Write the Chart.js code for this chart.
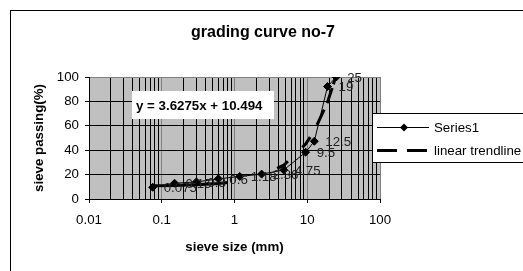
<!DOCTYPE html>
<html><head><meta charset="utf-8">
<script src="https://cdn.jsdelivr.net/npm/chart.js@4.4.1/dist/chart.umd.min.js"></script>
<style>html,body{margin:0;padding:0;background:#fff;overflow:hidden}canvas{display:block}</style>
</head><body>
<canvas id="c" width="523" height="271"></canvas>
<script>
// ---- data ----
const sieveSizes   = [0.075, 0.15, 0.3, 0.6, 1.18, 2.36, 4.75, 9.5, 12.5, 19, 25];
const sizeLabels   = ['0.075','0.15','0.3','0.6','1.18','2.36','4.75','9.5','12.5','19','25'];
const passing      = [9.6, 12.9, 14.0, 16.5, 18.5, 20.4, 23.8, 38.3, 47.3, 92.2, 100];
const trendPassing = [10.8, 11.0, 11.6, 12.7, 14.8, 19.1, 27.7, 45.0, 55.8, 79.4, 101.2];
const xTickDecades = [0.01, 0.1, 1, 10, 100];
const xTickLabels  = ['0.01','0.1','1','10','100'];
const yTicks       = [0, 20, 40, 60, 80, 100];
const chartTitle   = 'grading curve no-7';
const equationText = 'y = 3.6275x + 10.494';
const xTitle       = 'sieve size (mm)';
const yTitle       = 'sieve passing(%)';
const seriesName   = 'Series1';
const trendName    = 'linear trendline';

// minor + major tick positions for the log axis (1..9 within each decade)
const xAllTicks = [];
for (let i = 0; i < xTickDecades.length - 1; i++) {
  for (let m = 1; m <= 9; m++) xAllTicks.push(xTickDecades[i] * m);
}
xAllTicks.push(xTickDecades[xTickDecades.length - 1]);

function decadeIndex(v) {
  for (let i = 0; i < xTickDecades.length; i++) {
    if (Math.abs(v / xTickDecades[i] - 1) < 1e-6) return i;
  }
  return -1;
}

const FONT = '"Liberation Sans", Arial, sans-serif';
Chart.defaults.font.family = FONT;
Chart.defaults.color = '#000';

const decor = {
  id: 'decor',
  beforeDraw(chart) {
    const ctx = chart.ctx, a = chart.chartArea;
    ctx.save();
    ctx.fillStyle = '#fff';
    ctx.fillRect(0, 0, chart.width, chart.height);
    ctx.fillStyle = '#c0c0c0';
    ctx.fillRect(a.left, a.top, a.right - a.left, a.bottom - a.top);
    ctx.strokeStyle = '#000';
    ctx.lineWidth = 1;
    ctx.strokeRect(10.5, 10.5, 700, 400);
    ctx.restore();
  },
  afterDatasetsDraw(chart) {
    const ctx = chart.ctx;
    const meta = chart.getDatasetMeta(0);
    ctx.save();
    ctx.font = '13.3px ' + FONT;
    ctx.fillStyle = '#222';
    ctx.textAlign = 'left';
    ctx.textBaseline = 'middle';
    meta.data.forEach((pt, i) => {
      ctx.fillText(sizeLabels[i], pt.x + 11, pt.y + 1);
    });
    ctx.restore();
  },
  afterDraw(chart) {
    const ctx = chart.ctx;
    ctx.save();
    // title
    ctx.fillStyle = '#000';
    ctx.font = 'bold 16px ' + FONT;
    ctx.textAlign = 'center';
    ctx.textBaseline = 'alphabetic';
    ctx.fillText(chartTitle, 263, 37);
    // equation box
    ctx.fillStyle = '#fff';
    ctx.fillRect(132, 91, 142, 28);
    ctx.fillStyle = '#000';
    ctx.font = 'bold 13.3px ' + FONT;
    ctx.textAlign = 'left';
    ctx.fillText(equationText, 136, 109.5);
    // legend
    ctx.fillStyle = '#fff';
    ctx.fillRect(372, 113, 200, 49);
    ctx.strokeStyle = '#000';
    ctx.lineWidth = 1;
    ctx.strokeRect(372.5, 113.5, 200, 49);
    ctx.beginPath();
    ctx.moveTo(377, 127.5); ctx.lineTo(429, 127.5);
    ctx.stroke();
    ctx.beginPath();
    ctx.moveTo(404, 123.5); ctx.lineTo(408, 127.5); ctx.lineTo(404, 131.5); ctx.lineTo(400, 127.5); ctx.closePath();
    ctx.fillStyle = '#000'; ctx.fill();
    ctx.lineWidth = 3;
    ctx.setLineDash([20, 10]);
    ctx.beginPath();
    ctx.moveTo(377, 150.5); ctx.lineTo(427, 150.5);
    ctx.stroke();
    ctx.setLineDash([]);
    ctx.font = '13.3px ' + FONT;
    ctx.fillStyle = '#000';
    ctx.textAlign = 'left';
    ctx.fillText(seriesName, 434, 132);
    ctx.fillText(trendName, 434, 155);
    ctx.restore();
  }
};

new Chart(document.getElementById('c'), {
  type: 'line',
  data: {
    datasets: [
      {
        label: seriesName,
        data: sieveSizes.map((x, i) => ({x: x, y: passing[i]})),
        borderColor: '#000',
        borderWidth: 1,
        pointStyle: 'rectRot',
        pointRadius: 4,
        pointBackgroundColor: '#000',
        pointBorderColor: '#000',
        pointBorderWidth: 1,
        tension: 0
      },
      {
        label: trendName,
        data: sieveSizes.map((x, i) => ({x: x, y: trendPassing[i]})),
        borderColor: '#000',
        borderWidth: 3,
        borderDash: [75, 52, 13, 20, 13, 14, 17, 7, 16, 4, 12],
        pointRadius: 0,
        tension: 0
      }
    ]
  },
  options: {
    responsive: false,
    animation: false,
    devicePixelRatio: 1,
    layout: { padding: { left: 0, top: 77, right: 143, bottom: 0 } },
    plugins: { legend: { display: false }, tooltip: { enabled: false }, title: { display: false } },
    scales: {
      x: {
        type: 'logarithmic',
        min: 0.01, max: 100,
        afterBuildTicks: s => { s.ticks = xAllTicks.map(v => ({ value: v })); },
        afterFit: s => { s.height = 72; },
        ticks: {
          autoSkip: false, maxRotation: 0, minRotation: 0, padding: 9,
          color: '#000', font: { size: 13.3 },
          callback: v => { const i = decadeIndex(v); return i >= 0 ? xTickLabels[i] : ''; }
        },
        grid: {
          color: c => decadeIndex(c.tick.value) >= 0 ? '#808080' : '#000',
          lineWidth: 1,
          tickLength: 4,
          tickColor: c => decadeIndex(c.tick.value) >= 0 ? '#000' : 'rgba(0,0,0,0)'
        },
        border: { display: true, color: '#000', width: 1 },
        title: { display: true, text: xTitle, color: '#000', font: { size: 13.3, weight: 'bold' }, padding: { top: 0, bottom: 16 } }
      },
      y: {
        type: 'linear',
        min: 0, max: 100,
        afterBuildTicks: s => { s.ticks = yTicks.map(v => ({ value: v })); },
        afterFit: s => { s.width = 89; },
        ticks: { padding: 6, color: '#000', font: { size: 13.3 } },
        grid: {
          color: c => c.tick.value === 100 ? '#808080' : '#000',
          lineWidth: 1, tickLength: 4, tickColor: '#000'
        },
        border: { display: true, color: '#000', width: 1 },
        title: { display: true, text: yTitle, color: '#000', font: { size: 13.3, weight: 'bold' }, padding: { top: 31, bottom: 0 } }
      }
    }
  },
  plugins: [decor]
});
</script>
</body></html>
